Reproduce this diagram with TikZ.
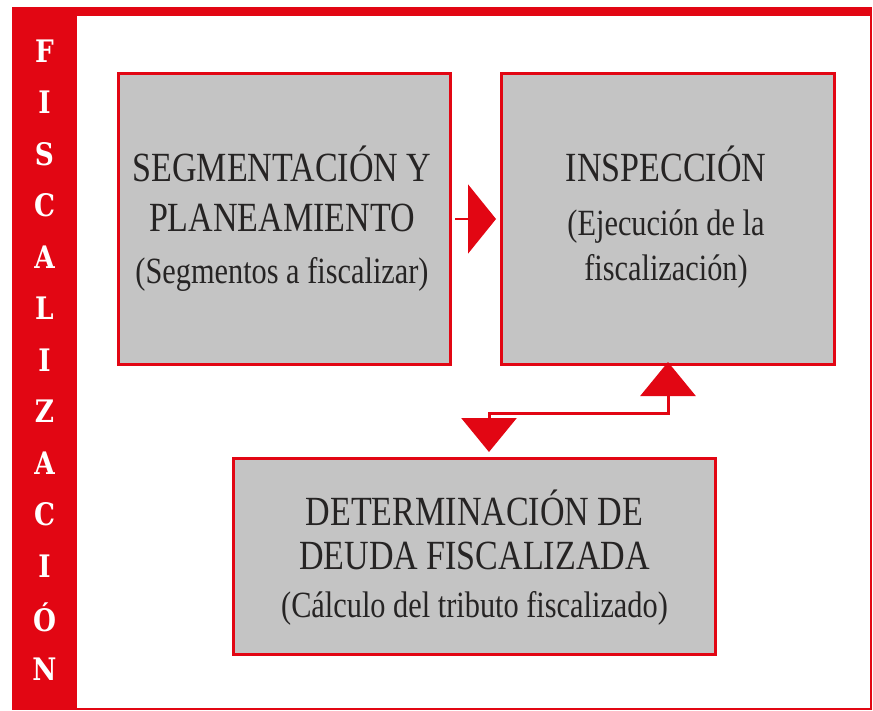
\documentclass[tikz,border=0pt]{standalone}
\usepackage{fontspec}
\setmainfont{Liberation Serif}[FakeStretch=0.82]
\newfontfamily\stripfont{DejaVu Serif}[FakeStretch=0.85]
\usetikzlibrary{arrows.meta}
\definecolor{fred}{RGB}{226,6,19}
\definecolor{fgray}{RGB}{196,196,196}
\definecolor{ftext}{RGB}{38,36,36}
\tikzset{
  stagebox/.style={draw=fred, line width=3pt, fill=fgray, inner sep=0pt, outer sep=0pt},
  titletext/.style={anchor=base, inner sep=0pt, text=ftext, font=\fontsize{41.5}{46}\selectfont},
  subtext/.style={anchor=base, inner sep=0pt, text=ftext, font=\fontsize{37}{42}\selectfont},
  stripletter/.style={text=white, inner sep=0pt, font=\stripfont\bfseries\fontsize{31}{34}\selectfont},
  flowarrow/.style={draw=fred, line width=2.5pt, -{Triangle[length=28pt, width=69pt]}},
  twoway/.style={draw=fred, line width=3pt, {Triangle[length=34pt, width=55pt]}-{Triangle[length=34pt, width=55pt]}}
}
\begin{document}
\begin{tikzpicture}[x=1pt, y=-1pt]
\useasboundingbox[fill=white] (0,0) rectangle (873,711);
% frame
\fill[fred] (12,7) rectangle (77,710);
\fill[fred] (12,7) rectangle (872,16);
\draw[fred, line width=2pt] (871,8) -- (871,709);
\draw[fred, line width=2pt] (77,708.5) -- (872,708.5);
% vertical word
\foreach \ch [count=\i] in {F,I,S,C,A,L,I,Z,A,C,I,Ó,N} {
  \node[stripletter] (l\i) at (44.5, {51.5*\i - 0.5}) {\ch};
}
% boxes
\node[stagebox, minimum width=332pt, minimum height=291pt] (seg) at (284.5,219) {};
\node[stagebox, minimum width=333pt, minimum height=291pt] (ins) at (668,219) {};
\node[stagebox, minimum width=482pt, minimum height=196pt] (det) at (474.5,556.5) {};
% texts
\node[titletext] (seg1) at (282,182) {SEGMENTACIÓN Y};
\node[titletext] (seg2) at (282,232) {PLANEAMIENTO};
\node[subtext] (seg3) at (282,284) {(Segmentos a fiscalizar)};
\node[titletext] (ins1) at (666,182) {INSPECCIÓN};
\node[subtext] (ins2) at (666,236) {(Ejecución de la};
\node[subtext] (ins3) at (666,281) {fiscalización)};
\node[titletext] (det1) at (474.5,525) {DETERMINACIÓN DE};
\node[titletext] (det2) at (474.5,569) {DEUDA FISCALIZADA};
\node[subtext] (det3) at (474.5,617) {(Cálculo del tributo fiscalizado)};
% connectors
\coordinate (jogL) at (489,413);
\coordinate (jogR) at (668,413);
\draw[flowarrow, shorten <=4.5pt, shorten >=5.5pt] (seg.east) -- (ins.west);
\draw[twoway, shorten <=6.5pt, shorten >=-2.5pt] (det.north -| jogL) -- (jogL) -- (jogR) -- (ins.south -| jogR);
\end{tikzpicture}
\end{document}
